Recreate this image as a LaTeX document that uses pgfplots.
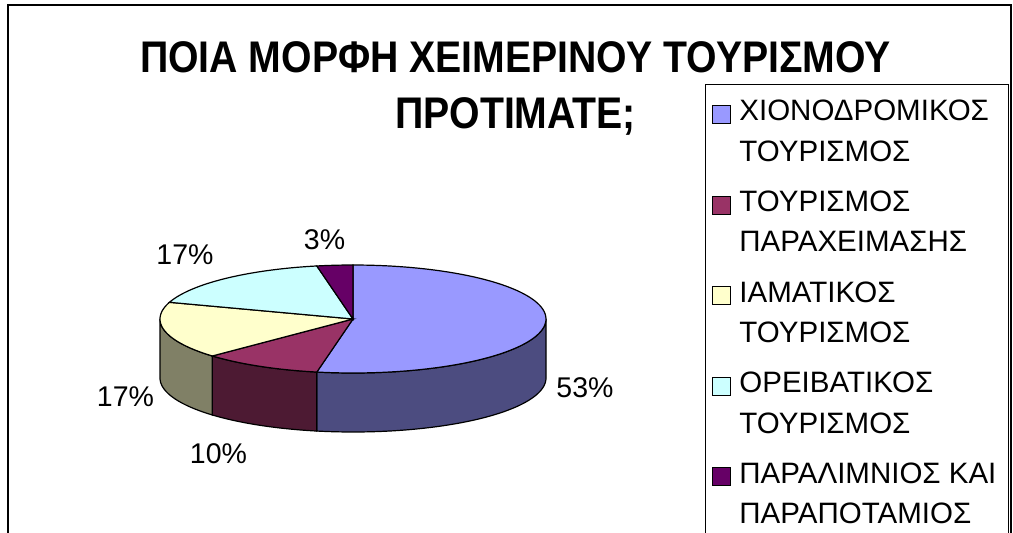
\documentclass[border=0pt]{standalone}
\usepackage{graphicx}
\usepackage{fontspec}
\setmainfont{Liberation Sans}
\usepackage{pgfplots}
\usepackage{pgfplotstable}
\pgfplotsset{compat=1.18}

\definecolor{blueT}{HTML}{9999FF}
\definecolor{blueS}{HTML}{4C4C80}
\definecolor{redT}{HTML}{993366}
\definecolor{redS}{HTML}{4D1A33}
\definecolor{yelT}{HTML}{FFFFCC}
\definecolor{yelS}{HTML}{808066}
\definecolor{cyaT}{HTML}{CCFFFF}
\definecolor{cyaS}{HTML}{668080}
\definecolor{purT}{HTML}{660066}
\definecolor{purS}{HTML}{330033}

% shares of the five forms of winter tourism (%)
\pgfplotstableread{
share
53
10
17
17
3
}\piedata

\begin{document}
\begin{tikzpicture}
\pgfplotstablegetelem{0}{share}\of\piedata \pgfmathsetmacro{\sA}{\pgfplotsretval}
\pgfplotstablegetelem{1}{share}\of\piedata \pgfmathsetmacro{\sB}{\pgfplotsretval}
\pgfplotstablegetelem{2}{share}\of\piedata \pgfmathsetmacro{\sC}{\pgfplotsretval}
\pgfplotstablegetelem{3}{share}\of\piedata \pgfmathsetmacro{\sD}{\pgfplotsretval}
\pgfplotstablegetelem{4}{share}\of\piedata \pgfmathsetmacro{\sE}{\pgfplotsretval}
\pgfmathsetmacro{\tot}{\sA+\sB+\sC+\sD+\sE}
% boundary angles, clockwise from 12 o'clock
\pgfmathsetmacro{\aO}{90}
\pgfmathsetmacro{\aA}{\aO-\sA/\tot*360}
\pgfmathsetmacro{\aB}{\aA-\sB/\tot*360}
\pgfmathsetmacro{\aC}{\aB-\sC/\tot*360}
\pgfmathsetmacro{\aD}{\aC-\sD/\tot*360}
\pgfmathsetmacro{\aE}{\aD-\sE/\tot*360}
% visible (front) parts of the rim
\pgfmathsetmacro{\bLo}{max(\aA,-180)}\pgfmathsetmacro{\bHi}{min(\aO,0)}
\pgfmathsetmacro{\rLo}{max(\aB,-180)}\pgfmathsetmacro{\rHi}{min(\aA,0)}
\pgfmathsetmacro{\yLo}{max(\aC,-180)}\pgfmathsetmacro{\yHi}{min(\aB,0)}
\def\cx{353}\def\cy{319}\def\rx{193}\def\ry{54}\def\dep{59}
\begin{axis}[
  scale only axis, width=1013pt, height=533pt,
  xmin=0, xmax=1013, ymin=0, ymax=533, y dir=reverse,
  hide axis, clip=false,
  legend style={at={(axis cs:705,84)}, anchor=north west, draw=none, fill=none,
    inner xsep=7pt, inner ysep=16pt, row sep=28pt, /tikz/column sep=0pt,
    font=\fontsize{29.5}{40.5}\selectfont, nodes={align=left, inner sep=0pt}},
  legend cell align=left,
  legend image code/.code={\draw[#1, line width=1.2pt] (0pt,8pt) rectangle (18pt,26pt); \path (26pt,8pt);},
]
% legend frame (runs past the lower edge, as in the reference)
\draw[line width=0.9pt, black] (axis cs:705,560) rectangle (axis cs:1008,84);
% rim (side faces)
\addplot[forget plot, fill=blueS, draw=black, line width=1.2pt, samples at={0,2,...,100,200,202,...,300}]
  ({\cx+\rx*cos(\bLo+(\bHi-\bLo)*((x<150)?x:300-x)/100)},
   {\cy-\ry*sin(\bLo+(\bHi-\bLo)*((x<150)?x:300-x)/100)+((x<150)?0:\dep)}) -- cycle;
\addplot[forget plot, fill=redS, draw=black, line width=1.2pt, samples at={0,2,...,100,200,202,...,300}]
  ({\cx+\rx*cos(\rLo+(\rHi-\rLo)*((x<150)?x:300-x)/100)},
   {\cy-\ry*sin(\rLo+(\rHi-\rLo)*((x<150)?x:300-x)/100)+((x<150)?0:\dep)}) -- cycle;
\addplot[forget plot, fill=yelS, draw=black, line width=1.2pt, samples at={0,2,...,100,200,202,...,300}]
  ({\cx+\rx*cos(\yLo+(\yHi-\yLo)*((x<150)?x:300-x)/100)},
   {\cy-\ry*sin(\yLo+(\yHi-\yLo)*((x<150)?x:300-x)/100)+((x<150)?0:\dep)}) -- cycle;
% top faces
\addplot[fill=blueT, draw=black, line width=1.2pt, domain=\aA:\aO, samples=80]
  ({\cx+\rx*cos(x)},{\cy-\ry*sin(x)}) -- (axis cs:\cx,\cy) -- cycle;
\addlegendentry{ΧΙΟΝΟΔΡΟΜΙΚΟΣ\\ΤΟΥΡΙΣΜΟΣ}
\addplot[fill=redT, draw=black, line width=1.2pt, domain=\aB:\aA, samples=30]
  ({\cx+\rx*cos(x)},{\cy-\ry*sin(x)}) -- (axis cs:\cx,\cy) -- cycle;
\addlegendentry{ΤΟΥΡΙΣΜΟΣ\\ΠΑΡΑΧΕΙΜΑΣΗΣ}
\addplot[fill=yelT, draw=black, line width=1.2pt, domain=\aC:\aB, samples=40]
  ({\cx+\rx*cos(x)},{\cy-\ry*sin(x)}) -- (axis cs:\cx,\cy) -- cycle;
\addlegendentry{ΙΑΜΑΤΙΚΟΣ\\ΤΟΥΡΙΣΜΟΣ}
\addplot[fill=cyaT, draw=black, line width=1.2pt, domain=\aD:\aC, samples=40]
  ({\cx+\rx*cos(x)},{\cy-\ry*sin(x)}) -- (axis cs:\cx,\cy) -- cycle;
\addlegendentry{ΟΡΕΙΒΑΤΙΚΟΣ\\ΤΟΥΡΙΣΜΟΣ}
\addplot[fill=purT, draw=black, line width=1.2pt, domain=\aE:\aD, samples=10]
  ({\cx+\rx*cos(x)},{\cy-\ry*sin(x)}) -- (axis cs:\cx,\cy) -- cycle;
\addlegendentry{ΠΑΡΑΛΙΜΝΙΟΣ ΚΑΙ\\ΠΑΡΑΠΟΤΑΜΙΟΣ}
% data labels
\node[anchor=base, font=\fontsize{28.5}{34}\selectfont] at (axis cs:585,397) {53\%};
\node[anchor=base, font=\fontsize{28.5}{34}\selectfont] at (axis cs:218.5,463) {10\%};
\node[anchor=base, font=\fontsize{28.5}{34}\selectfont] at (axis cs:125.5,406) {17\%};
\node[anchor=base, font=\fontsize{28.5}{34}\selectfont] at (axis cs:185,264) {17\%};
\node[anchor=base, font=\fontsize{28.5}{34}\selectfont] at (axis cs:324.5,249) {3\%};
% title
\node[anchor=base, font=\bfseries\fontsize{44.3}{50}\selectfont] at (axis cs:515.5,72)
  {\scalebox{0.885}[1]{ΠΟΙΑ ΜΟΡΦΗ ΧΕΙΜΕΡΙΝΟΥ ΤΟΥΡΙΣΜΟΥ}};
\node[anchor=base, font=\bfseries\fontsize{44.3}{50}\selectfont] at (axis cs:515.5,128)
  {\scalebox{0.885}[1]{ΠΡΟΤΙΜΑΤΕ;}};
% chart area frame
\draw[line width=1.6pt, black] (axis cs:8,560) -- (axis cs:8,5) -- (axis cs:1011,5) -- (axis cs:1011,560);
\end{axis}
\pgfresetboundingbox
\path[use as bounding box] (0,0) rectangle (1013pt,533pt);
\end{tikzpicture}
\end{document}
